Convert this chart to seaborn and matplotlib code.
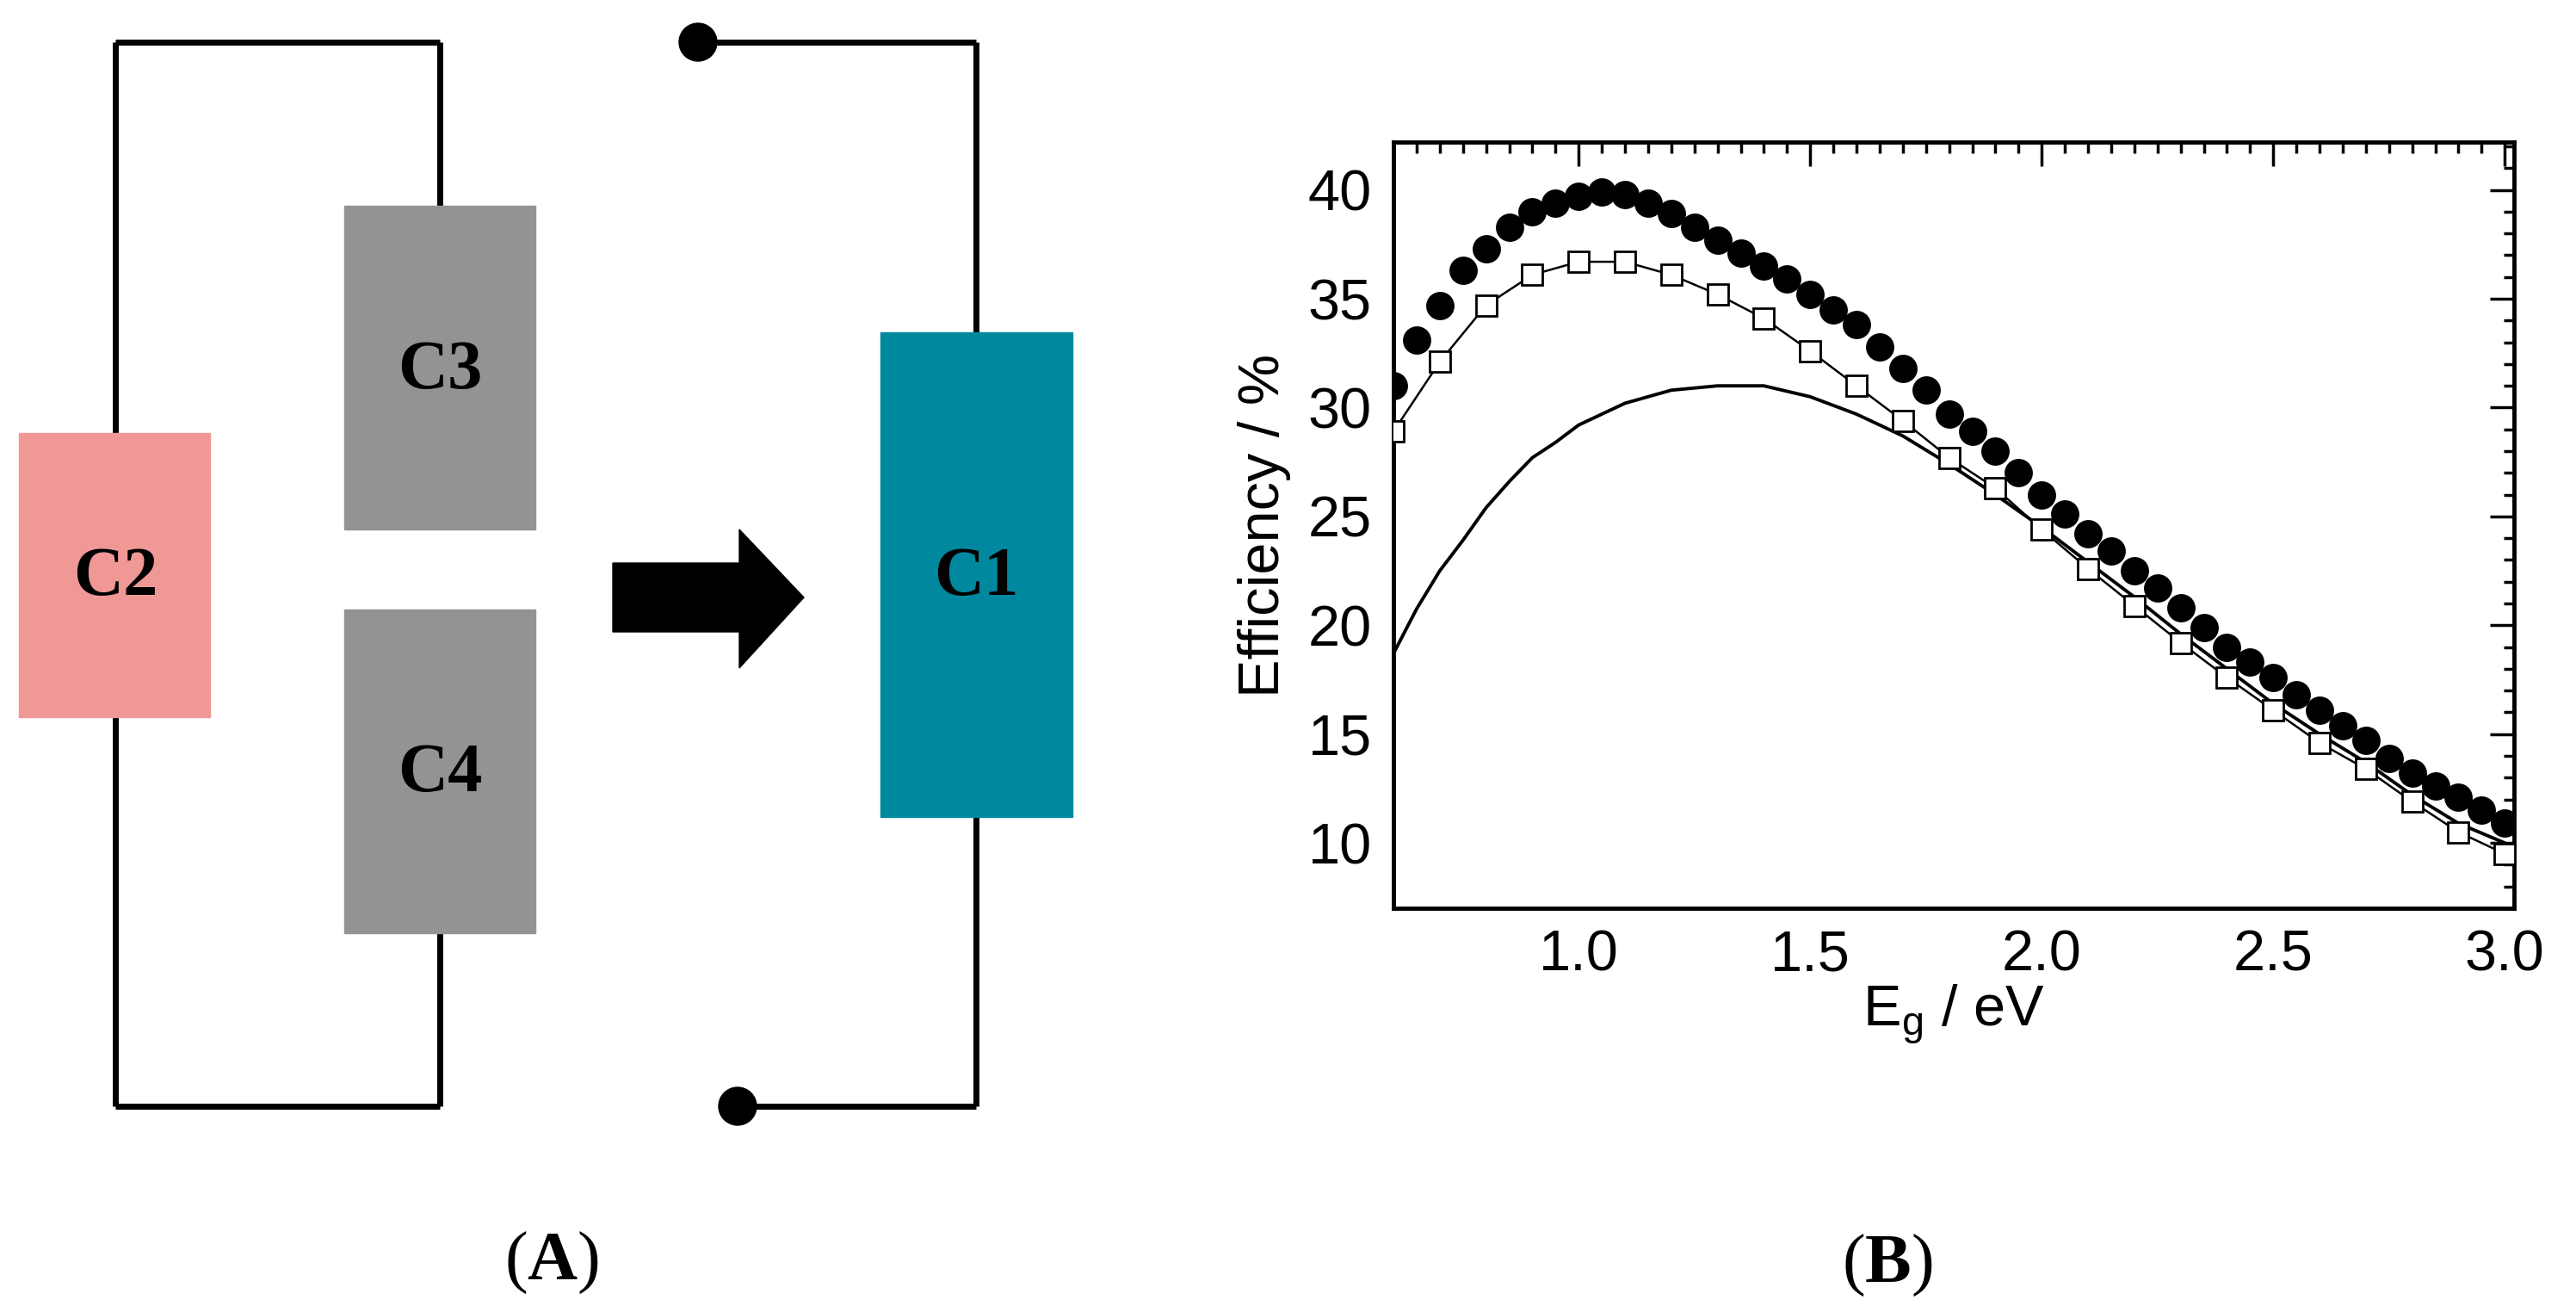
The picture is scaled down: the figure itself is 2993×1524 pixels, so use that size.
import numpy as np
import pandas as pd
import matplotlib
matplotlib.use("Agg")
import matplotlib.pyplot as plt
import seaborn as sns
from matplotlib.patches import Rectangle, Polygon, Circle
from matplotlib.ticker import MultipleLocator

sns.set_style("white")
plt.rcParams['font.family'] = ['Liberation Sans', 'DejaVu Sans']
plt.rcParams['text.color'] = 'black'
plt.rcParams['axes.labelcolor'] = 'black'
plt.rcParams['xtick.color'] = 'black'
plt.rcParams['ytick.color'] = 'black'
plt.rcParams['mathtext.fontset'] = 'custom'
plt.rcParams['mathtext.rm'] = 'Liberation Serif'
plt.rcParams['mathtext.bf'] = 'Liberation Serif:bold'

# ---- data ----
circ_x = [0.60, 0.65, 0.70, 0.75, 0.80, 0.85, 0.90, 0.95, 1.00, 1.05, 1.10, 1.15, 1.20, 1.25,
          1.30, 1.35, 1.40, 1.45, 1.50, 1.55, 1.60, 1.65, 1.70, 1.75, 1.80, 1.85, 1.90, 1.95,
          2.00, 2.05, 2.10, 2.15, 2.20, 2.25, 2.30, 2.35, 2.40, 2.45, 2.50, 2.55, 2.60, 2.65,
          2.70, 2.75, 2.80, 2.85, 2.90, 2.95, 3.00]
circ_y = [31.0, 33.1, 34.7, 36.3, 37.3, 38.3, 39.0, 39.4, 39.7, 39.9, 39.8, 39.4, 38.9, 38.3,
          37.7, 37.1, 36.5, 35.9, 35.2, 34.5, 33.8, 32.8, 31.8, 30.8, 29.7, 28.9, 28.0, 27.0,
          26.0, 25.1, 24.2, 23.4, 22.5, 21.7, 20.8, 19.9, 19.0, 18.3, 17.6, 16.8, 16.1, 15.4,
          14.7, 13.9, 13.2, 12.6, 12.1, 11.5, 10.9]
sq_x = [0.6, 0.7, 0.8, 0.9, 1.0, 1.1, 1.2, 1.3, 1.4, 1.5, 1.6, 1.7, 1.8, 1.9, 2.0, 2.1, 2.2,
        2.3, 2.4, 2.5, 2.6, 2.7, 2.8, 2.9, 3.0]
sq_y = [28.9, 32.1, 34.7, 36.1, 36.7, 36.7, 36.1, 35.2, 34.1, 32.6, 31.0, 29.4, 27.7, 26.3,
        24.4, 22.6, 20.9, 19.2, 17.6, 16.1, 14.6, 13.4, 11.9, 10.5, 9.5]
line_x = [0.6, 0.65, 0.7, 0.75, 0.8, 0.85, 0.9, 0.95, 1.0, 1.1, 1.2, 1.3, 1.4, 1.5, 1.6, 1.7,
          1.8, 1.9, 2.0, 2.1, 2.2, 2.3, 2.4, 2.5, 2.6, 2.7, 2.8, 2.9, 3.0]
line_y = [18.7, 20.75, 22.5, 23.9, 25.4, 26.6, 27.7, 28.4, 29.2, 30.2, 30.8, 31.0, 31.0, 30.5,
          29.7, 28.7, 27.4, 26.0, 24.5, 22.9, 21.3, 19.6, 18.0, 16.4, 15.0, 13.7, 12.2, 10.9,
          10.0]
x_ticks = [1.0, 1.5, 2.0, 2.5, 3.0]
y_ticks = [10, 15, 20, 25, 30, 35, 40]

W, H = 2993, 1524
fig = plt.figure(figsize=(W / 100, H / 100), dpi=100)

# ---- panel A (diagram) drawn in pixel coordinates ----
ov = fig.add_axes([0, 0, 1, 1])
ov.set_xlim(0, W)
ov.set_ylim(H, 0)
ov.axis("off")
lw = 5
k = dict(color="black", lw=lw, solid_capstyle="butt", zorder=1)
ov.plot([134, 511], [49, 49], **k)
ov.plot([134, 134], [49, 1285], **k)
ov.plot([134, 511], [1285, 1285], **k)
ov.plot([511, 511], [49, 239], **k)
ov.plot([511, 511], [1084, 1285], **k)
ov.add_patch(Rectangle((22, 503), 222, 330, color="#EF9896", zorder=2))
ov.add_patch(Rectangle((400, 239), 222, 376, color="#939393", zorder=2))
ov.add_patch(Rectangle((400, 708), 222, 376, color="#939393", zorder=2))
ov.add_patch(Polygon([(712, 654), (859, 654), (859, 615), (934, 694), (859, 776),
                      (859, 734), (712, 734)], closed=True, color="black", zorder=2))
ov.plot([811, 1134], [49, 49], **k)
ov.plot([1134, 1134], [49, 1285], **k)
ov.plot([857, 1134], [1285, 1285], **k)
ov.add_patch(Circle((811, 49), 22, color="black", zorder=3))
ov.add_patch(Circle((857, 1285), 22, color="black", zorder=3))
ov.add_patch(Rectangle((1023, 386), 223, 563, color="#00889F", zorder=2))
tk = dict(family="Liberation Serif", fontweight="bold", fontsize=58, ha="center",
          va="center", zorder=4, color="black")
ov.text(134, 671, "C2", **tk)
ov.text(511, 432, "C3", **tk)
ov.text(511, 899, "C4", **tk)
ov.text(1134, 671, "C1", **tk)
pk = dict(family="Liberation Serif", fontsize=58, ha="center", va="center")
ov.text(641, 1467, "($\\mathbf{A}$)", **pk)
ov.text(2193, 1470, "($\\mathbf{B}$)", **pk)

# ---- panel B ----
ax = fig.add_axes([1619 / W, 1 - 1055 / H, (2921 - 1619) / W, (1055 - 165) / H])
df_l = pd.DataFrame({"x": line_x, "y": line_y})
df_s = pd.DataFrame({"x": sq_x, "y": sq_y})
df_c = pd.DataFrame({"x": circ_x, "y": circ_y})
sns.lineplot(data=df_l, x="x", y="y", ax=ax, color="black", lw=2.8, zorder=2)
sns.lineplot(data=df_s, x="x", y="y", ax=ax, color="black", lw=1.8, marker="s",
             markersize=17, markerfacecolor="white", markeredgecolor="black",
             markeredgewidth=2, zorder=3)
sns.scatterplot(data=df_c, x="x", y="y", ax=ax, color="black", s=480, edgecolor="black",
                zorder=4)
ax.set_xlim(0.6, 3.02)
ax.set_ylim(7.0, 42.2)
ax.set_xticks(x_ticks)
ax.set_yticks(y_ticks)
ax.set_xticklabels([f"{v:.1f}" for v in x_ticks])
ax.xaxis.set_minor_locator(MultipleLocator(0.05))
ax.yaxis.set_minor_locator(MultipleLocator(1))
ax.tick_params(which="both", direction="in", top=True, right=True, labelsize=48,
               width=2.5, color="black")
ax.tick_params(which="major", length=20, pad=18)
ax.tick_params(which="minor", length=9)
for s in ax.spines.values():
    s.set_linewidth(3.5)
    s.set_color("black")
ax.set_xlabel("E$_\\mathregular{g}$ / eV", fontsize=48, labelpad=0)
ax.set_ylabel("Efficiency / %", fontsize=48, labelpad=14)

fig.savefig("out.png", dpi=100)
